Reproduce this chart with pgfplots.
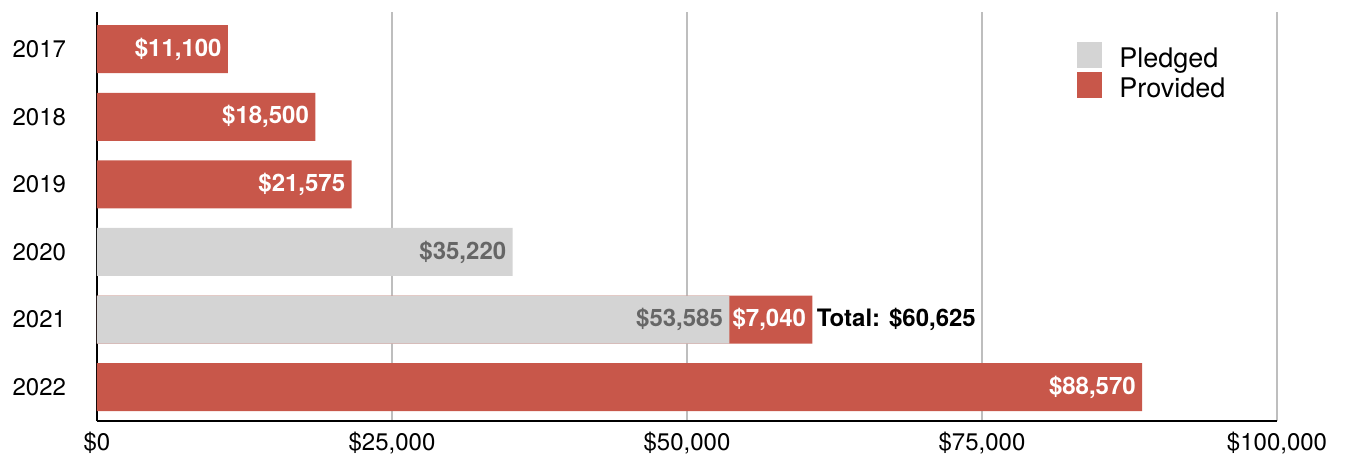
\documentclass[border=0pt]{standalone}
\usepackage{pgfplots}
\pgfplotsset{compat=1.18}
\usepackage{fontspec}
\setmainfont{TeX Gyre Heros}
\definecolor{provred}{RGB}{200,87,74}
\definecolor{pledgray}{RGB}{212,212,212}
\definecolor{labgray}{RGB}{102,102,102}
\definecolor{gridgray}{RGB}{190,190,190}
\begin{document}
\begin{tikzpicture}[font=\fontsize{12bp}{14bp}\selectfont]
\begin{axis}[
  at={(0,0)}, anchor=south west,
  scale only axis, width=590bp, height=204.5bp,
  xbar, bar width=24bp, bar shift=0pt,
  xmin=0, xmax=100000, ymin=-0.5, ymax=5.55,
  axis x line=bottom, axis y line=left,
  axis line style={-, black, line width=1bp},
  xmajorgrids, grid style={gridgray, line width=1bp},
  major tick length=0pt,
  xtick={0,25000,50000,75000,100000},
  xticklabels={{\$0},{\$25,000},{\$50,000},{\$75,000},{\$100,000}},
  ytick={0,1,2,3,4,5},
  yticklabels={2022,2021,2020,2019,2018,2017},
  x tick label style={yshift=-2.2bp},
  y tick label style={xshift=-12bp},
  legend cell align=left,
  reverse legend,
  legend image code/.code={\fill[#1] (0bp,-2.5bp) rectangle (12.5bp,10.5bp);},
  legend style={at={(axis cs:83050,5.11)}, anchor=north west, draw=none, fill=none,
    inner sep=0pt, row sep=-3bp,
    nodes={inner sep=0pt, text height=9.5bp, text depth=5bp, font=\fontsize{13.5bp}{15bp}\selectfont},
    /tikz/every odd column/.append style={column sep=8.5bp}},
  nodes near coords,
  point meta=explicit symbolic,
]
% Provided (2021 segment drawn from the pledged end: 53585 + 7040 = 60625)
\addplot+[fill=provred, draw=none,
  every node near coord/.style={white, font=\fontsize{12bp}{14bp}\selectfont\bfseries, anchor=east, inner sep=0pt, xshift=-3bp}]
  coordinates {(11100,5)[\$11,100] (18500,4)[\$18,500] (21575,3)[\$21,575] (60625,1)[\$7,040] (88570,0)[\$88,570]};
\addlegendentry{Provided}
% Pledged
\addplot+[fill=pledgray, draw=none,
  every node near coord/.style={labgray, font=\fontsize{12bp}{14bp}\selectfont\bfseries, anchor=east, inner sep=0pt, xshift=-3bp}]
  coordinates {(35220,2)[\$35,220] (53585,1)[\$53,585]};
\addlegendentry{Pledged}
\node[anchor=west, inner sep=0pt, xshift=2bp, font=\fontsize{12bp}{14bp}\selectfont\bfseries] at (axis cs:60625,1) {Total: \$60,625};
\end{axis}
\pgfresetboundingbox
\path (-48.5bp,-19bp) rectangle (624bp,210.5bp);
\end{tikzpicture}
\end{document}
